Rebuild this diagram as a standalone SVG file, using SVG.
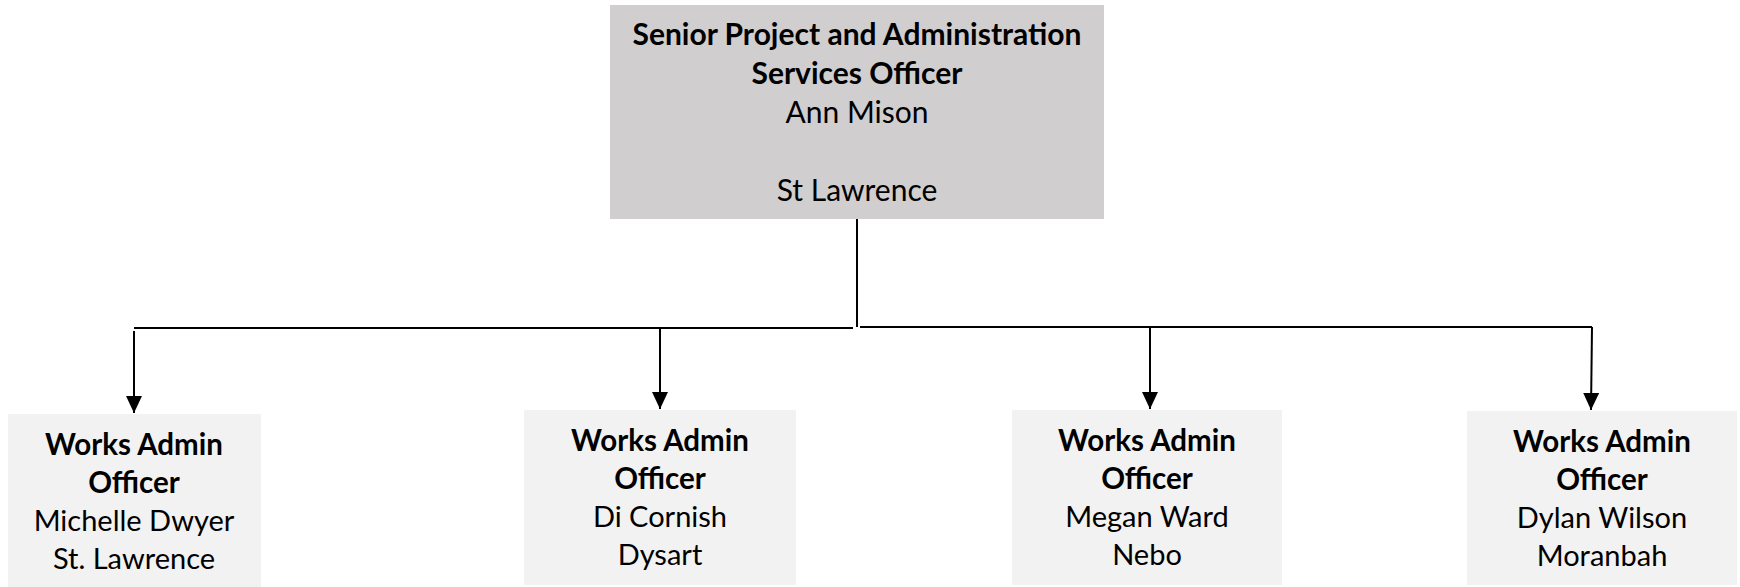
<svg xmlns="http://www.w3.org/2000/svg" width="1740" height="587" viewBox="0 0 1740 587">
  <style>
    .head { fill: #d0cecf; }
    .staff { fill: #f2f2f2; }
    text { font-family: Lato, "Liberation Sans", sans-serif; fill: #000; text-anchor: middle; }
    .title { font-weight: bold; font-size: 30px; }
    .name { font-size: 30px; }
    .stitle { font-weight: bold; font-size: 29.5px; }
    .sname { font-size: 29px; }
    .wire { stroke: #000; stroke-width: 2; fill: none; }
  </style>
  <defs>
    <marker id="arrow" markerUnits="userSpaceOnUse" markerWidth="18" markerHeight="18" viewBox="0 0 18 18" refX="17" refY="9" orient="auto">
      <path d="M0,1 L17,9 L0,17 Z" fill="#000"/>
    </marker>
  </defs>

  <g id="senior-officer">
    <rect class="head" x="610" y="5" width="494" height="214"/>
    <text class="title" x="857" y="45">Senior Project and Administration</text>
    <text class="title" x="857" y="84">Services Officer</text>
    <text class="name" x="857" y="123">Ann Mison</text>
    <text class="name" x="857" y="201">St Lawrence</text>
  </g>

  <g id="officer-st-lawrence">
    <rect class="staff" x="8" y="414" width="253" height="173"/>
    <text class="stitle" x="134" y="455">Works Admin</text>
    <text class="stitle" x="134" y="493">Officer</text>
    <text class="sname" x="134" y="531">Michelle Dwyer</text>
    <text class="sname" x="134" y="569">St. Lawrence</text>
  </g>

  <g id="officer-dysart">
    <rect class="staff" x="524" y="410" width="272" height="175"/>
    <text class="stitle" x="660" y="451">Works Admin</text>
    <text class="stitle" x="660" y="489">Officer</text>
    <text class="sname" x="660" y="527">Di Cornish</text>
    <text class="sname" x="660" y="565">Dysart</text>
  </g>

  <g id="officer-nebo">
    <rect class="staff" x="1012" y="410" width="270" height="175"/>
    <text class="stitle" x="1147" y="451">Works Admin</text>
    <text class="stitle" x="1147" y="489">Officer</text>
    <text class="sname" x="1147" y="527">Megan Ward</text>
    <text class="sname" x="1147" y="565">Nebo</text>
  </g>

  <g id="officer-moranbah">
    <rect class="staff" x="1467" y="411" width="270" height="174"/>
    <text class="stitle" x="1602" y="452">Works Admin</text>
    <text class="stitle" x="1602" y="490">Officer</text>
    <text class="sname" x="1602" y="528">Dylan Wilson</text>
    <text class="sname" x="1602" y="566">Moranbah</text>
  </g>

  <g id="connectors">
    <line class="wire" x1="857" y1="219" x2="857" y2="327" stroke="#555"/>
    <line class="wire" x1="134" y1="328" x2="853" y2="328"/>
    <line class="wire" x1="860" y1="327" x2="1592" y2="327"/>
    <line class="wire" x1="134" y1="331" x2="134" y2="413" marker-end="url(#arrow)"/>
    <line class="wire" x1="660" y1="328" x2="660" y2="409" marker-end="url(#arrow)"/>
    <line class="wire" x1="1150" y1="327" x2="1150" y2="409" marker-end="url(#arrow)"/>
    <line class="wire" x1="1592" y1="327" x2="1591" y2="410" marker-end="url(#arrow)"/>
  </g>
</svg>
